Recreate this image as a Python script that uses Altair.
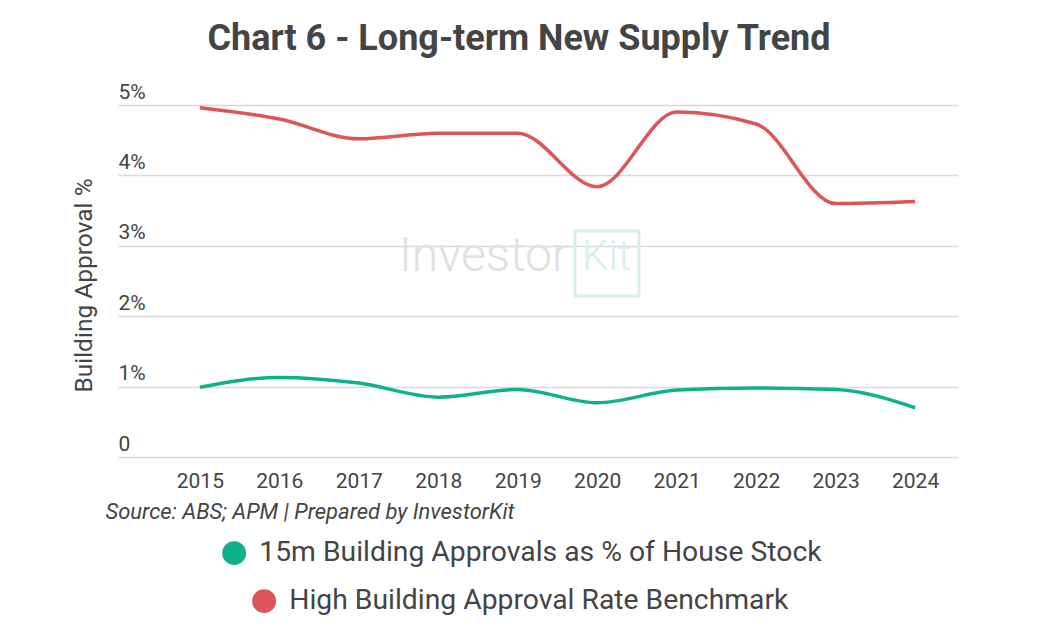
import altair as alt
import pandas as pd

years = [2015, 2016, 2017, 2018, 2019, 2020, 2021, 2022, 2023, 2024]
approvals = [0.99, 1.13, 1.05, 0.85, 0.96, 0.77, 0.95, 0.98, 0.96, 0.70]
benchmark = [4.96, 4.80, 4.52, 4.60, 4.60, 3.84, 4.90, 4.73, 3.60, 3.63]

series_names = ["15m Building Approvals as % of House Stock",
                "High Building Approval Rate Benchmark"]
series_colors = ["#0db28a", "#de5559"]

df_a = pd.DataFrame({"year": years, "value": approvals, "series": series_names[0]})
df_b = pd.DataFrame({"year": years, "value": benchmark, "series": series_names[1]})

FONT = "Roboto"
TXT = "#444444"

x_enc = alt.X("year:Q",
              scale=alt.Scale(domain=[2013.97, 2024.54], nice=False, zero=False),
              axis=alt.Axis(values=years, format="d", grid=False, domain=False, ticks=False,
                            labelFontSize=21, labelColor=TXT, labelPadding=13,
                            title="Source: ABS; APM | Prepared by InvestorKit",
                            titleFontStyle="italic", titleFontWeight="normal",
                            titleFontSize=22, titleColor=TXT, titleAnchor="start",
                            titleAlign="left", titleX=-13, titleY=61,
                            titleBaseline="alphabetic"))
y_enc = alt.Y("value:Q",
              scale=alt.Scale(domain=[0, 5], nice=False),
              axis=alt.Axis(values=[0, 1, 2, 3, 4, 5],
                            labelExpr="datum.value == 0 ? '0' : datum.value + '%'",
                            grid=True, gridColor="#d9d9d9", gridWidth=1.5,
                            domain=False, ticks=False, labelAlign="left",
                            labelBaseline="alphabetic", labelPadding=0, labelOffset=-7,
                            labelFontSize=21, labelColor=TXT,
                            title="Building Approval %", titleFontSize=24.5,
                            titleFontWeight="normal", titleColor=TXT,
                            titleAngle=270, titleX=-34, titleY=180,
                            titleAlign="center", titleBaseline="middle"))

def legend_for(i, lx, ly):
    return alt.Legend(orient="none", legendX=lx, legendY=ly, title=None,
                      symbolType="circle", symbolSize=570,
                      symbolFillColor=series_colors[i], symbolStrokeColor=series_colors[i],
                      symbolStrokeWidth=0, labelFontSize=28.3, labelColor=TXT,
                      labelFont=FONT, labelOffset=11, labelLimit=900)

line_a = alt.Chart(df_a).mark_line(interpolate="monotone", strokeWidth=3.5).encode(
    x=x_enc, y=y_enc,
    color=alt.Color("series:N", scale=alt.Scale(domain=[series_names[0]], range=[series_colors[0]]),
                    legend=legend_for(0, 102, 434)))
line_b = alt.Chart(df_b).mark_line(interpolate="monotone", strokeWidth=3.5).encode(
    x=x_enc, y=y_enc,
    color=alt.Color("series:N", scale=alt.Scale(domain=[series_names[1]], range=[series_colors[1]]),
                    legend=legend_for(1, 132, 482)))

# watermark
wm_df = pd.DataFrame({"a": [0]})
wm_text = alt.Chart(wm_df).mark_text(text="Investor", font=FONT, fontSize=48, fontWeight=300,
                                     color="#e0e0e0", align="left", baseline="alphabetic").encode(
    x=alt.value(281), y=alt.value(166))
wm_kit = alt.Chart(wm_df).mark_text(text="Kit", font=FONT, fontSize=42, fontWeight=300,
                                    color="#d3f1e6", align="left", baseline="alphabetic").encode(
    x=alt.value(464), y=alt.value(165))
wm_box = alt.Chart(wm_df).mark_rect(fill=None, stroke="#d3f1e6", strokeWidth=3).encode(
    x=alt.value(457), x2=alt.value(521), y=alt.value(126), y2=alt.value(191))

chart = alt.layer(wm_box, wm_text, wm_kit, line_a, line_b).resolve_scale(
    color="independent"
).properties(
    width=840, height=352,
    padding={"left": 110, "top": 97, "right": 74, "bottom": 175},
    autosize=alt.AutoSizeParams(type="none"),
    title=alt.TitleParams("Chart 6 - Long-term New Supply Trend", font=FONT, fontSize=36,
                          fontWeight="bold", color=TXT, anchor="middle", dx=-19, offset=23),
).configure(font=FONT, background="white").configure_view(stroke="transparent", strokeWidth=0)

chart.save("out.html", embed_options={"renderer": "svg", "actions": False})
